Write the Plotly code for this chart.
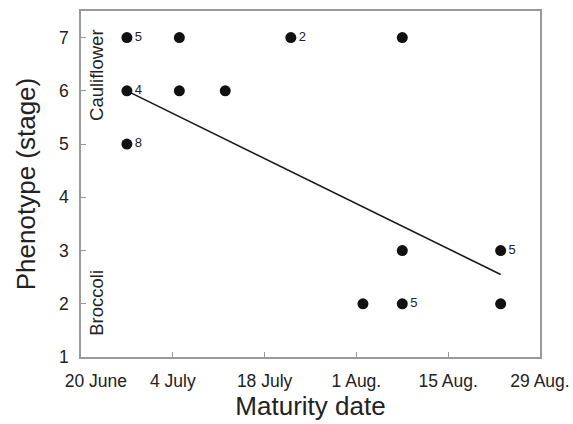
import plotly.graph_objects as go

# Data
dates = ["2000-06-27", "2000-07-05", "2000-07-22", "2000-08-08",
         "2000-06-27", "2000-07-05", "2000-07-12",
         "2000-06-27",
         "2000-08-08", "2000-08-23",
         "2000-08-02", "2000-08-08", "2000-08-23"]
stages = [7, 7, 7, 7,
          6, 6, 6,
          5,
          3, 3,
          2, 2, 2]
counts = ["5", "", "2", "",
          "4", "", "",
          "8",
          "", "5",
          "", "5", ""]

fit_dates = ["2000-06-27", "2000-08-23"]
fit_stages = [6.0, 2.55]

tick_dates = ["2000-06-20", "2000-07-04", "2000-07-18", "2000-08-01", "2000-08-15", "2000-08-29"]
tick_labels = ["\u2003\u2002\u200920 June", "4 July", "18 July", "1 Aug.", "15 Aug.", "29 Aug."]
y_ticks = [1, 2, 3, 4, 5, 6, 7]

FONT = "Liberation Sans, Arial, Helvetica, sans-serif"
FRAME = "#9a9a9a"
TXT = "#222222"

fig = go.Figure()
fig.add_trace(go.Scatter(
    x=fit_dates, y=fit_stages, mode="lines",
    line=dict(color="#1a1a1a", width=1.6), hoverinfo="skip", showlegend=False))
fig.add_trace(go.Scatter(
    x=dates, y=stages, mode="markers+text",
    marker=dict(color="#111111", size=11),
    text=counts, textposition="middle right",
    textfont=dict(family=FONT, size=13, color=TXT),
    showlegend=False))

fig.update_layout(
    width=573, height=424,
    margin=dict(l=81, r=33, t=11, b=67),
    paper_bgcolor="white", plot_bgcolor="white",
    font=dict(family=FONT, color=TXT),
    xaxis=dict(
        type="date", range=["2000-06-20", "2000-08-29"],
        tickvals=tick_dates, ticktext=tick_labels,
        ticks="inside", ticklen=5, tickcolor=FRAME, tickwidth=1,
        showline=True, linecolor=FRAME, linewidth=1.5, mirror=True,
        showgrid=False, zeroline=False, automargin=False,
        tickfont=dict(size=17.5, color=TXT),
        title=dict(text="Maturity date", font=dict(size=26, color=TXT), standoff=5),
        ticklabelstandoff=7,
    ),
    yaxis=dict(
        range=[1, 7.5], tickvals=y_ticks,
        ticks="inside", ticklen=5, tickcolor=FRAME, tickwidth=1,
        showline=True, linecolor=FRAME, linewidth=1.5, mirror=True,
        showgrid=False, zeroline=False, automargin=False,
        tickfont=dict(size=17.5, color=TXT),
        title=dict(text="Phenotype (stage)", font=dict(size=26, color=TXT), standoff=16),
        ticklabelstandoff=7,
    ),
)

fig.add_annotation(text="Cauliflower", x=0.035, y=6.3, xref="paper", yref="y",
                   xanchor="center", yanchor="middle", textangle=-90, showarrow=False,
                   font=dict(family=FONT, size=18.5, color=TXT))
fig.add_annotation(text="Broccoli", x=0.035, y=2.02, xref="paper", yref="y",
                   xanchor="center", yanchor="middle", textangle=-90, showarrow=False,
                   font=dict(family=FONT, size=18.5, color=TXT))

# remove the browser's default 8px body margin so the figure fills the window
fig.write_html("out.html",
               config={"displayModeBar": False},
               post_script="document.body.style.margin='0';document.body.style.overflow='hidden';")
